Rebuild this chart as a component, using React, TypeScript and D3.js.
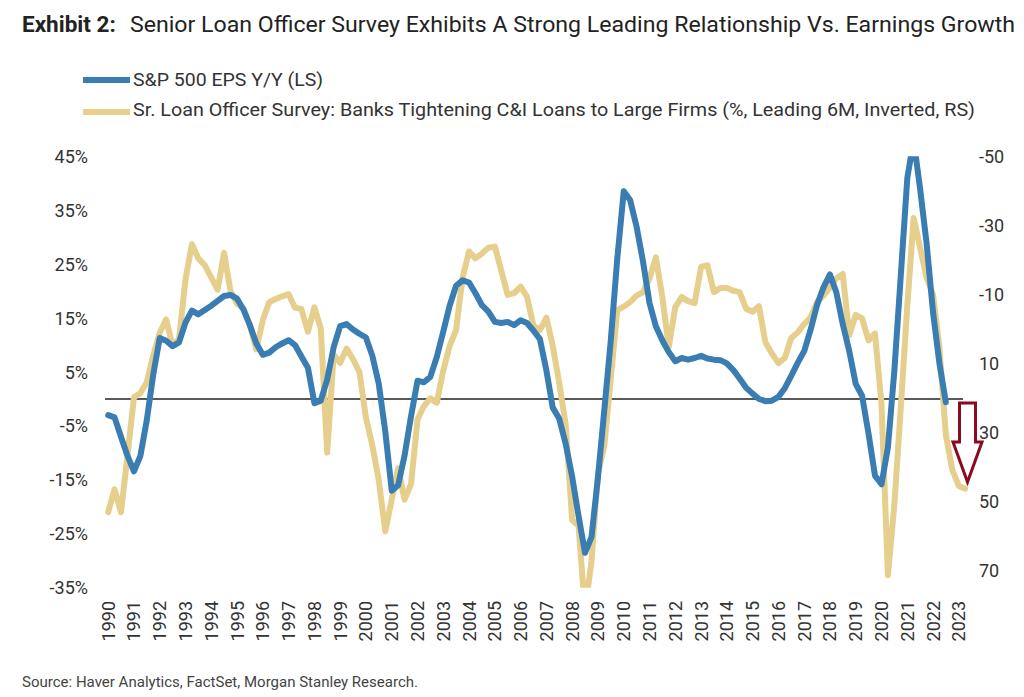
import * as d3 from 'd3';

// quarterly points, 1990 Q1 onwards
const START_YEAR = 1990;

// S&P 500 EPS Y/Y, % (left scale)
const epsYoY = [
  -3.0, -3.4, -7.0, -10.5, -13.4, -10.6, -4.0, 4.5, 11.3, 10.8,
  9.8, 10.5, 14.2, 16.4, 15.7, 16.5, 17.3, 18.2, 19.1, 19.3,
  18.6, 16.6, 13.7, 10.3, 8.2, 8.6, 9.6, 10.3, 10.9, 10.0,
  7.9, 5.8, -0.8, -0.3, 3.6, 9.6, 13.5, 13.9, 12.9, 12.1,
  11.4, 8.0, 2.8, -6.0, -17.0, -16.0, -10.5, -3.2, 3.4, 3.1,
  4.1, 7.8, 12.5, 17.3, 21.0, 22.0, 21.6, 19.6, 17.4, 16.2,
  14.3, 14.1, 14.3, 13.7, 14.6, 14.1, 12.7, 11.1, 5.3, -1.6,
  -3.6, -8.3, -14.4, -21.7, -28.5, -25.6, -14.5, -2.0, 10.8, 26.0,
  38.5, 36.9, 32.0, 25.5, 17.8, 13.5, 10.9, 8.7, 7.0, 7.6,
  7.3, 7.6, 8.0, 7.5, 7.3, 7.2, 6.6, 5.4, 3.8, 2.1,
  1.0, 0.0, -0.4, -0.3, 0.4, 2.0, 4.3, 6.7, 8.9, 12.8,
  17.4, 20.7, 23.1, 19.8, 13.9, 8.9, 2.8, 0.6, -6.4, -14.2,
  -15.8, -9.0, 5.2, 23.0, 41.0, 48.0, 39.0, 28.9, 16.0, 6.6,
  -0.6,
];

// banks tightening C&I loans to large firms, %, leading 6M (right scale, inverted)
const sloosTightening = [
  53.2, 46.6, 53.2, 36.9, 19.9, 18.7, 15.6, 7.7, 1.2, -2.7,
  5.0, 2.9, -14.3, -24.5, -20.4, -18.4, -14.8, -11.3, -22.0, -10.8,
  -7.3, -5.9, -1.1, 6.0, -2.5, -7.7, -8.6, -9.4, -10.0, -6.1,
  -5.7, 0.9, -6.2, -0.1, 35.9, 7.5, 9.9, 5.8, 8.8, 12.6,
  25.8, 33.9, 44.0, 58.8, 49.6, 40.5, 49.6, 45.1, 26.3, 22.5,
  20.2, 21.5, 12.1, 5.0, 0.4, -14.8, -22.4, -20.4, -21.8, -23.5,
  -23.8, -16.9, -9.8, -10.3, -12.2, -9.3, -0.9, 0.4, -3.2, 5.0,
  15.6, 27.8, 55.5, 57.2, 82.0, 67.4, 42.0, 33.9, 14.6, -5.4,
  -6.4, -7.7, -9.6, -10.6, -14.6, -20.7, -9.3, 5.3, -6.2, -9.2,
  -8.0, -7.4, -17.9, -18.4, -10.6, -11.8, -11.8, -11.0, -10.6, -5.8,
  -4.9, -6.5, 3.9, 7.2, 10.0, 8.5, 2.7, 1.1, -1.4, -3.2,
  -7.7, -9.6, -12.0, -14.6, -15.9, 1.9, -4.0, -3.0, 3.4, 1.4,
  21.7, 71.5, 51.1, 22.7, -6.7, -32.1, -23.5, -14.8, -9.8, 5.5,
  30.8, 41.0, 45.6, 46.4,
];

const leftTicks = [45, 35, 25, 15, 5, -5, -15, -25, -35];
const rightTicks = [-50, -30, -10, 10, 30, 50, 70];
const yearTicks = [
  1990, 1991, 1992, 1993, 1994, 1995, 1996, 1997, 1998, 1999,
  2000, 2001, 2002, 2003, 2004, 2005, 2006, 2007, 2008, 2009,
  2010, 2011, 2012, 2013, 2014, 2015, 2016, 2017, 2018, 2019,
  2020, 2021, 2022, 2023,
];

const BLUE = '#3a7db2';
const GOLD = '#e6cf8c';
const TEXT = '#333';
const FONT = 'Roboto, "Liberation Sans", Arial, sans-serif';

const quarterDate = (i: number) => new Date(START_YEAR + Math.floor(i / 4), (i % 4) * 3, 1);

const top = 156.3;
const bottom = 587.8;

const x = d3.scaleTime()
  .domain([new Date(1989, 11, 1), new Date(2023, 2, 1)])
  .range([106, 963]);

const yLeft = d3.scaleLinear().domain([-35, 45]).range([bottom, top]);
const yRight = d3.scaleLinear().domain([-50, 75.15]).range([top, bottom]);

const epsLine = d3.line<number>()
  .x((_, i) => x(quarterDate(i)))
  .y(d => yLeft(d));

const sloosLine = d3.line<number>()
  .x((_, i) => x(quarterDate(i)))
  .y(d => yRight(d));

export default function App() {
  const zeroY = yLeft(0);
  // down arrow next to the last point
  const ax = 967.5;
  const arrow = `M${ax - 8},403 H${ax + 8} V442 H${ax + 14.5} L${ax},482 L${ax - 14.5},442 H${ax - 8} Z`;

  return (
    <svg width={1024} height={697} style={{ position: 'absolute', left: 0, top: 0, background: '#fff' }}
      fontFamily={FONT}>
      <defs>
        <clipPath id="plot-clip">
          <rect x={95} y={top} width={880} height={bottom - top} />
        </clipPath>
      </defs>

      {/* title */}
      <text x={22} y={32} fontSize={22.5} fontWeight="bold" fill="#222">Exhibit 2:</text>
      <text x={130} y={32} fontSize={22.5} fill="#222" textLength={885} lengthAdjust="spacingAndGlyphs">
        Senior Loan Officer Survey Exhibits A Strong Leading Relationship Vs. Earnings Growth
      </text>

      {/* legend */}
      <line x1={83} x2={130} y1={80} y2={80} stroke={BLUE} strokeWidth={6} />
      <text x={133} y={86} fontSize={17.5} fill={TEXT} textLength={190} lengthAdjust="spacingAndGlyphs">
        S&amp;P 500 EPS Y/Y (LS)
      </text>
      <line x1={83} x2={130} y1={112} y2={112} stroke={GOLD} strokeWidth={6} />
      <text x={133} y={116} fontSize={17.5} fill={TEXT} textLength={842} lengthAdjust="spacingAndGlyphs">
        Sr. Loan Officer Survey: Banks Tightening C&amp;I Loans to Large Firms (%, Leading 6M, Inverted, RS)
      </text>

      {/* left axis labels */}
      {leftTicks.map(t => (
        <text key={`l${t}`} x={88} y={yLeft(t)} dy="0.36em" textAnchor="end" fontSize={18} fill={TEXT}>
          {`${t}%`}
        </text>
      ))}

      {/* right axis labels */}
      {rightTicks.map(t => (
        <text key={`r${t}`} x={979} y={yRight(t)} dy="0.36em" fontSize={18} fill={TEXT}>
          {t}
        </text>
      ))}

      {/* year labels */}
      {yearTicks.map(yr => (
        <text key={yr} transform={`translate(${x(new Date(yr, 0, 1))},601) rotate(-90)`}
          dy="0.36em" textAnchor="end" fontSize={18} fill={TEXT}>
          {yr}
        </text>
      ))}

      <line x1={105} x2={963} y1={zeroY} y2={zeroY} stroke="#222" strokeWidth={1.3} />

      <g clipPath="url(#plot-clip)" fill="none" strokeLinejoin="round" strokeLinecap="round">
        <path d={sloosLine(sloosTightening) ?? ''} stroke={GOLD} strokeWidth={6} />
        <path d={epsLine(epsYoY) ?? ''} stroke={BLUE} strokeWidth={6} />
      </g>

      <path d={arrow} fill="#fff" stroke="#8b0a1e" strokeWidth={3} strokeLinejoin="miter" />

      <text x={22} y={687} fontSize={14.5} fill="#444" textLength={396} lengthAdjust="spacingAndGlyphs">
        Source: Haver Analytics, FactSet, Morgan Stanley Research.
      </text>
    </svg>
  );
}
